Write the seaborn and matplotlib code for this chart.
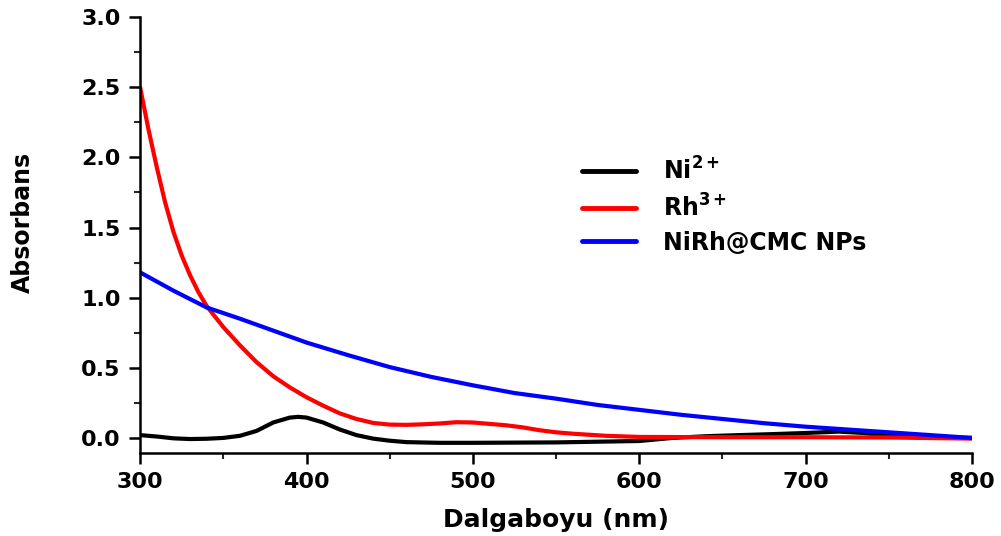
import matplotlib
matplotlib.use("Agg")
import matplotlib.pyplot as plt
import seaborn as sns
import pandas as pd
from matplotlib.ticker import MultipleLocator

# Wavelengths (nm) and absorbance
wl_ni = [300, 310, 320, 330, 340, 350, 360, 370, 380, 390, 395, 400, 410, 420, 430, 440, 450, 460,
         480, 500, 550, 600, 620, 640, 660, 680, 700, 720, 735, 750, 770, 800]
abs_ni = [0.02, 0.01, -0.003, -0.008, -0.006, 0.0, 0.015, 0.05, 0.11, 0.145, 0.15, 0.145, 0.11, 0.06,
          0.02, -0.005, -0.02, -0.03, -0.035, -0.035, -0.032, -0.022, 0.0, 0.012, 0.02, 0.027, 0.035,
          0.045, 0.035, 0.015, 0.005, 0.0]

wl_rh = [300, 305, 310, 315, 320, 325, 330, 335, 340, 350, 360, 370, 380, 390, 400, 410, 420, 430,
         440, 450, 460, 470, 480, 490, 500, 510, 520, 530, 540, 550, 560, 580, 600, 650, 700, 750, 800]
abs_rh = [2.5, 2.2, 1.93, 1.68, 1.47, 1.3, 1.16, 1.04, 0.94, 0.79, 0.66, 0.54, 0.44, 0.36, 0.29, 0.23,
          0.175, 0.135, 0.107, 0.095, 0.093, 0.097, 0.103, 0.112, 0.11, 0.1, 0.09, 0.075, 0.055, 0.04,
          0.03, 0.015, 0.007, 0.005, 0.005, 0.003, -0.005]

wl_np = [300, 320, 340, 360, 380, 400, 425, 450, 475, 500, 525, 550, 575, 600, 625, 650, 675, 700,
         725, 750, 775, 800]
abs_np = [1.18, 1.05, 0.93, 0.85, 0.765, 0.68, 0.59, 0.505, 0.435, 0.375, 0.32, 0.28, 0.235, 0.2, 0.165,
          0.135, 0.105, 0.08, 0.06, 0.04, 0.02, 0.0]

labels = [r"Ni$^{\mathbf{2+}}$", r"Rh$^{\mathbf{3+}}$", "NiRh@CMC NPs"]
colors = ["#000000", "#ff0000", "#0000ff"]

x_ticks = [300, 400, 500, 600, 700, 800]
y_ticks = [0.0, 0.5, 1.0, 1.5, 2.0, 2.5, 3.0]

df = pd.concat([
    pd.DataFrame({"wl": wl_ni, "abs": abs_ni, "series": labels[0]}),
    pd.DataFrame({"wl": wl_rh, "abs": abs_rh, "series": labels[1]}),
    pd.DataFrame({"wl": wl_np, "abs": abs_np, "series": labels[2]}),
], ignore_index=True)

sns.set_theme(style="ticks")
plt.rcParams["font.family"] = ["DejaVu Sans"]
plt.rcParams["mathtext.fontset"] = "dejavusans"
plt.rcParams["mathtext.default"] = "bf"
plt.rcParams["text.color"] = "black"
plt.rcParams["axes.labelcolor"] = "black"

fig = plt.figure(figsize=(10.01, 5.36), dpi=100)
ax = fig.add_axes([0.14, 0.155, 0.831, 0.813])

sns.lineplot(data=df, x="wl", y="abs", hue="series", hue_order=labels,
             palette=colors, linewidth=3, ax=ax, sort=True, estimator=None)

ax.set_xlim(300, 800)
ax.set_ylim(-0.107, 3.0)
ax.set_xticks(x_ticks)
ax.set_yticks(y_ticks)
ax.set_xticklabels([str(v) for v in x_ticks])
ax.set_yticklabels([f"{v:.1f}" for v in y_ticks])
ax.xaxis.set_minor_locator(MultipleLocator(50))
ax.yaxis.set_minor_locator(MultipleLocator(0.25))

for s in ["top", "right"]:
    ax.spines[s].set_visible(False)
for s in ["left", "bottom"]:
    ax.spines[s].set_linewidth(1.8)
    ax.spines[s].set_color("black")

ax.tick_params(axis="both", which="major", length=8, width=1.8, labelsize=16, colors="black",
               direction="out", pad=6)
ax.tick_params(axis="both", which="minor", length=4, width=1.5, direction="out")
for lab in ax.get_xticklabels() + ax.get_yticklabels():
    lab.set_fontweight("bold")

ax.set_xlabel("Dalgaboyu (nm)", fontsize=18, fontweight="bold", labelpad=11, color="black")
ax.set_ylabel("Absorbans", fontsize=17, fontweight="bold", color="black")
ax.yaxis.set_label_coords(-0.127, 0.53)

leg = ax.legend(loc="upper left", bbox_to_anchor=(0.531, 0.678), frameon=False,
                prop={"size": 17, "weight": "bold"}, handlelength=2.3, handletextpad=1.15,
                labelspacing=0.4, borderaxespad=0, borderpad=0)
for line in leg.get_lines():
    line.set_linewidth(3.5)
for t in leg.get_texts():
    t.set_color("black")

fig.savefig("out.png", dpi=100)
